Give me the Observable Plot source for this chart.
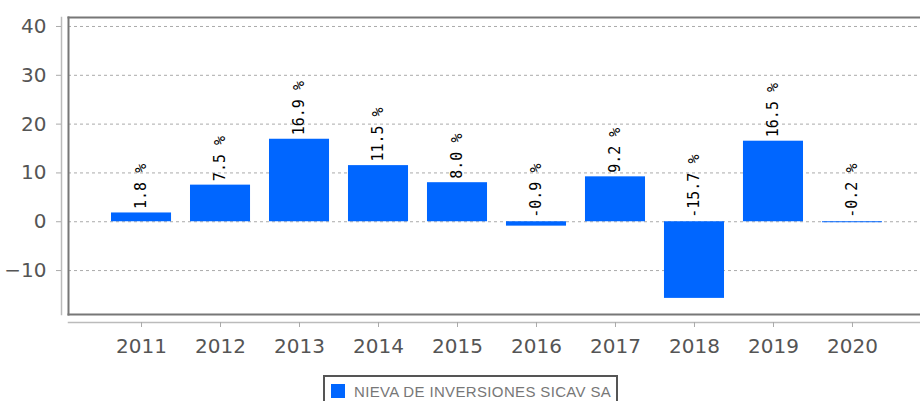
<!DOCTYPE html>
<html>
<head>
<meta charset="utf-8">
<script src="https://cdn.jsdelivr.net/npm/d3@7"></script>
<script src="https://cdn.jsdelivr.net/npm/@observablehq/plot@0.6"></script>
<style>
  html, body { margin: 0; padding: 0; background: #fff; width: 920px; height: 401px; overflow: hidden; }
  #chart { position: absolute; left: 0; top: 0; }
  #legend {
    position: absolute; left: 323px; top: 375px; width: 291px; height: 30px;
    border: 2px solid #555; box-sizing: content-box;
    font-family: "Liberation Sans", Arial, sans-serif; font-size: 15px; color: #777;
  }
  #legend .sw { position: absolute; left: 6px; top: 7px; width: 14px; height: 14px; background: #0066ff; }
  #legend span { position: absolute; left: 29px; top: 6px; line-height: 17px; letter-spacing: 0.35px; white-space: nowrap; }
</style>
</head>
<body>
<div id="chart"></div>
<div id="legend"><div class="sw"></div><span id="legtext"></span></div>
<script>
const years = ["2011","2012","2013","2014","2015","2016","2017","2018","2019","2020"];
const returns = [1.8, 7.5, 16.9, 11.5, 8.0, -0.9, 9.2, -15.7, 16.5, -0.2];
const yTicks = [-10, 0, 10, 20, 30, 40];
const seriesName = "NIEVA DE INVERSIONES SICAV SA";
const barColor = "#0066ff";

const data = years.map((y, i) => ({year: y, v: returns[i]}));

document.getElementById("legtext").textContent = seriesName;

const chart = Plot.plot({
  width: 920,
  height: 370,
  marginLeft: 68,
  marginRight: 0,
  marginTop: 17,
  marginBottom: 56,
  style: {fontFamily: "DejaVu Sans", background: "#fff"},
  x: {domain: years, range: [111, 882], paddingInner: 0.24, paddingOuter: 0, round: false},
  y: {domain: [-19.0, 41.84]},
  marks: [
    Plot.gridY(yTicks, {stroke: "#aaa", strokeOpacity: 1, strokeDasharray: "3,3"}),
    Plot.barY(data, {x: "year", y: "v", fill: barColor}),
    Plot.text(data, {
      x: "year", y: d => Math.max(d.v, 0),
      text: d => d.v.toFixed(1) + " %",
      rotate: -90, textAnchor: "start", dy: -4,
      fontSize: 15, fontFamily: "DejaVu Sans Mono", fill: "#000"
    }),
    Plot.frame({anchor: "top", stroke: "#777", strokeWidth: 2}),
    Plot.frame({anchor: "left", stroke: "#777", strokeWidth: 2}),
    Plot.frame({anchor: "bottom", stroke: "#777", strokeWidth: 2}),
    Plot.frame({anchor: "left", dx: -7, stroke: "#bbb", strokeWidth: 1.5}),
    Plot.frame({anchor: "bottom", dy: 8, stroke: "#bbb", strokeWidth: 1.5}),
    Plot.axisY(yTicks, {dx: -7, tickSize: 5, tickPadding: 10, fontSize: 20, stroke: "#aaa", fill: "#555", label: null}),
    Plot.axisX({dy: 8, tickSize: 5, tickPadding: 11, fontSize: 20, stroke: "#aaa", fill: "#555", label: null})
  ]
});
document.getElementById("chart").appendChild(chart);
</script>
</body>
</html>
